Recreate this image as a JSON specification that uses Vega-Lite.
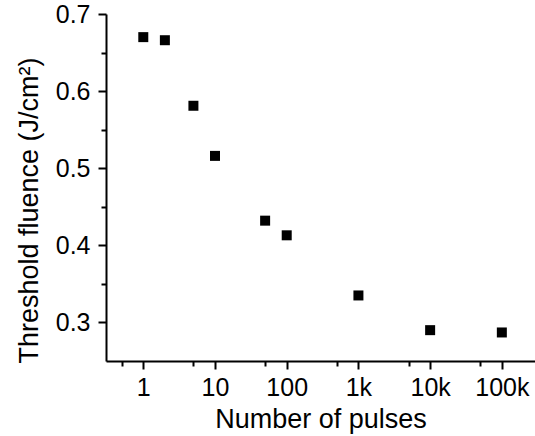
{
  "$schema": "https://vega.github.io/schema/vega-lite/v6.json",
  "width": 429,
  "height": 347,
  "autosize": {"type": "none"},
  "padding": {"left": 106, "top": 14, "right": 0, "bottom": 75},
  "background": "white",
  "config": {
    "view": {"stroke": null},
    "font": "Liberation Sans",
    "axis": {
      "domainColor": "black",
      "domainWidth": 2,
      "tickColor": "black",
      "tickWidth": 2,
      "labelColor": "black",
      "titleColor": "black",
      "labelFont": "Liberation Sans",
      "titleFont": "Liberation Sans",
      "labelFontSize": 25,
      "titleFontSize": 27,
      "titleFontWeight": "normal",
      "grid": false,
      "labelFlush": false,
      "labelOverlap": false
    }
  },
  "datasets": {
    "pts": [
      {"pulses": 1, "fluence": 0.670},
      {"pulses": 2, "fluence": 0.666},
      {"pulses": 5, "fluence": 0.581},
      {"pulses": 10, "fluence": 0.516},
      {"pulses": 50, "fluence": 0.432},
      {"pulses": 100, "fluence": 0.413},
      {"pulses": 1000, "fluence": 0.335},
      {"pulses": 10000, "fluence": 0.290},
      {"pulses": 100000, "fluence": 0.287}
    ]
  },
  "layer": [
    {
      "data": {"name": "pts"},
      "mark": {"type": "point", "shape": "square", "filled": true, "color": "black", "size": 100, "opacity": 1},
      "encoding": {
        "x": {
          "field": "pulses",
          "type": "quantitative",
          "scale": {"type": "log", "domain": [0.302, 290000], "nice": false},
          "axis": {
            "orient": "bottom",
            "values": [1, 10, 100, 1000, 10000, 100000],
            "format": "~s",
            "tickSize": 8,
            "labelPadding": 6,
            "title": "Number of pulses",
            "titleBaseline": "alphabetic",
            "titleY": 66
          }
        },
        "y": {
          "field": "fluence",
          "type": "quantitative",
          "scale": {"domain": [0.25, 0.7], "nice": false, "zero": false},
          "axis": {
            "orient": "left",
            "values": [0.3, 0.4, 0.5, 0.6, 0.7],
            "format": ".1f",
            "tickSize": 8,
            "labelPadding": 8,
            "title": "Threshold fluence (J/cm²)",
            "titleAngle": -90,
            "titleBaseline": "alphabetic",
            "titleAlign": "center",
            "titleX": -69,
            "titleY": 196
          }
        }
      }
    },
    {
      "data": {"name": "pts"},
      "mark": {"type": "point", "opacity": 0},
      "encoding": {
        "x": {
          "field": "pulses",
          "type": "quantitative",
          "axis": {
            "orient": "bottom",
            "values": [0.5, 5, 50, 500, 5000, 50000],
            "labels": false,
            "domain": false,
            "tickSize": 5,
            "title": null
          }
        },
        "y": {
          "field": "fluence",
          "type": "quantitative",
          "axis": {
            "orient": "left",
            "values": [0.35, 0.45, 0.55, 0.65],
            "labels": false,
            "domain": false,
            "tickSize": 5,
            "title": null
          }
        }
      }
    }
  ],
  "resolve": {"axis": {"x": "independent", "y": "independent"}}
}
